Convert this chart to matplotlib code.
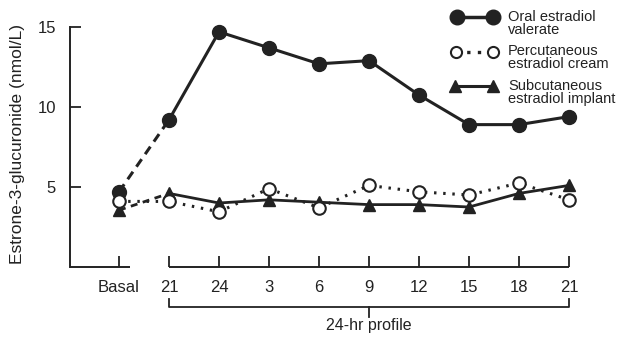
import matplotlib
matplotlib.use("Agg")
import matplotlib.pyplot as plt
import numpy as np

plt.rcParams['font.family'] = ['Liberation Sans', 'DejaVu Sans']

labels = ['Basal', '21', '24', '3', '6', '9', '12', '15', '18', '21']
oral = [4.7, 9.2, 14.7, 13.7, 12.7, 12.9, 10.75, 8.9, 8.9, 9.4]
cream = [4.1, 4.1, 3.45, 4.9, 3.7, 5.1, 4.7, 4.5, 5.25, 4.2]
implant = [3.55, 4.6, 4.0, 4.2, 4.05, 3.9, 3.9, 3.75, 4.6, 5.1]
legend_labels = ['Oral estradiol\nvalerate',
                 'Percutaneous\nestradiol cream',
                 'Subcutaneous\nestradiol implant']

ink = '#222222'
x = np.arange(len(labels))

fig = plt.figure(figsize=(6.18, 3.38), dpi=100)
ax = fig.add_axes([70/618, 71/338, 530/618, 247/338])

# oral estradiol valerate
ax.plot(x[:2], oral[:2], color=ink, lw=2.2, dashes=(3, 2), zorder=2)
ax.plot(x[1:], oral[1:], color=ink, lw=2.2, zorder=2)
ax.plot(x, oral, 'o', ms=10, color=ink, mec=ink, zorder=4)

# subcutaneous implant
ax.plot(x[:2], implant[:2], color=ink, lw=2.0, dashes=(2.5, 2), zorder=2)
ax.plot(x[1:], implant[1:], color=ink, lw=2.0, zorder=2)
ax.plot(x, implant, '^', ms=8.5, color=ink, mec=ink, zorder=3)

# percutaneous cream
ax.plot(x, cream, color=ink, lw=2.2, linestyle=(0, (0.8, 2.2)), zorder=2)
ax.plot(x, cream, 'o', ms=9, mfc='white', mec=ink, mew=1.5, zorder=5)

ax.set_xlim(-0.98, 9.62)
ax.set_ylim(0, 15.44)
ax.set_xticks(x)
ax.set_xticklabels(labels)
ax.set_yticks([5, 10, 15])
ax.tick_params(direction='in', length=8, width=1.3, color=ink, labelsize=12,
               labelcolor=ink, pad=10)
ax.tick_params(axis='x', pad=9)

for s in ['top', 'right', 'bottom']:
    ax.spines[s].set_visible(False)
ax.spines['left'].set_bounds(0, 15)
ax.spines['left'].set_linewidth(1.4)
ax.spines['left'].set_color(ink)

# broken x axis
ax.plot([-0.98, 0.22], [0, 0], color=ink, lw=1.4, clip_on=False, solid_capstyle='butt')
ax.plot([1, 9], [0, 0], color=ink, lw=1.4, clip_on=False, solid_capstyle='butt')

# 24-hr profile bracket
ax.plot([1, 1, 9, 9], [-2.0, -2.5, -2.5, -2.0], color=ink, lw=1.3, clip_on=False)
ax.plot([5, 5], [-2.5, -3.15], color=ink, lw=1.3, clip_on=False)
ax.text(5, -3.2, '24-hr profile', ha='center', va='top', fontsize=11.5, color=ink,
        clip_on=False)

fig.text(18/618, 1 - 144/338, 'Estrone-3-glucuronide (nmol/L)', rotation=90,
         ha='center', va='center', fontsize=12.5, color=ink)

# legend drawn in pixel space
lax = fig.add_axes([0, 0, 1, 1], zorder=10)
lax.set_xlim(0, 618)
lax.set_ylim(338, 0)
lax.axis('off')
lax.patch.set_alpha(0)

lax.plot([457, 493], [17, 17], color=ink, lw=2.5, marker='o', ms=10.5, mec=ink)
lax.plot([456, 493], [52, 52], color=ink, lw=2.4, linestyle=(0, (1, 2.2)))
lax.plot([456, 493], [52, 52], 'o', ms=8, mfc='white', mec=ink, mew=1.5)
lax.plot([455, 493], [86, 86], color=ink, lw=2.2, marker='^', ms=9, mec=ink)

for txt, yt in zip(legend_labels, [10, 44, 79]):
    lax.text(508, yt, txt, fontsize=10.5, color=ink, va='top', ha='left',
             linespacing=0.95)

fig.savefig('out.png', dpi=100, facecolor='white')
